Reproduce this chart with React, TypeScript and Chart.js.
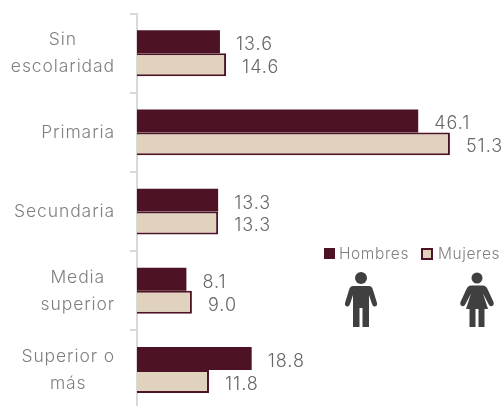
import React, { useEffect, useRef } from "react";
import { Chart, registerables } from "chart.js";

Chart.register(...registerables);

const categories: string[][] = [["Sin", "escolaridad"], ["Primaria"], ["Secundaria"], ["Media", "superior"], ["Superior o", "más"]];
const hombres = [13.6, 46.1, 13.3, 8.1, 18.8];
const mujeres = [14.6, 51.3, 13.3, 9.0, 11.8];

const FONT = "Inter";
const LABEL_COLOR = "#7f7f7f";
const VALUE_COLOR = "#666666";
const DARK = "#4e1225";
const LIGHT = "#e0d2bd";

const drawPlugin = {
  id: "customText",
  afterDraw(chart: any) {
    const ctx = chart.ctx;
    const y = chart.scales.y;
    const x = chart.scales.x;
    ctx.save();
    // category labels: right-aligned block with centred lines
    ctx.font = `300 17.5px ${FONT}`;
    (ctx as any).letterSpacing = "0.9px";
    ctx.fillStyle = LABEL_COLOR;
    ctx.textBaseline = "middle";
    ctx.textAlign = "center";
    categories.forEach((lines, i) => {
      const cy = y.getPixelForTick(i) + 0.5;
      const w = Math.max(...lines.map((l) => ctx.measureText(l).width));
      const cx = 115 - w / 2;
      lines.forEach((l, k) => {
        ctx.fillText(l, cx, cy + (k - (lines.length - 1) / 2) * 27);
      });
    });
    // value labels
    ctx.font = `300 18px ${FONT}`;
    (ctx as any).letterSpacing = "1px";
    ctx.fillStyle = VALUE_COLOR;
    ctx.textAlign = "left";
    chart.data.datasets.forEach((ds: any, di: number) => {
      const meta = chart.getDatasetMeta(di);
      meta.data.forEach((bar: any, i: number) => {
        ctx.fillText(Number(ds.data[i]).toFixed(1), x.getPixelForValue(ds.data[i]) + 16, bar.y + 3);
      });
    });
    // legend
    ctx.font = `300 15.5px ${FONT}`;
    (ctx as any).letterSpacing = "0.6px";
    const [h, m] = chart.data.datasets;
    ctx.fillStyle = DARK;
    ctx.fillRect(324, 248, 11, 11);
    ctx.fillStyle = LIGHT;
    ctx.strokeStyle = DARK;
    ctx.lineWidth = 2;
    ctx.fillRect(422, 249, 10, 10);
    ctx.strokeRect(422, 249, 10, 10);
    ctx.fillStyle = LABEL_COLOR;
    ctx.fillText(h.label, 339, 254);
    ctx.fillText(m.label, 438, 254);
    ctx.restore();
  },
};

function Man({ x, y }: { x: number; y: number }) {
  return (
    <svg style={{ position: "absolute", left: x, top: y }} width="34" height="56" viewBox="0 0 34 56">
      <circle cx="17" cy="6" r="6" fill="#404040" />
      <path
        d="M9 14 H25 Q28 14 29 18 L33 31 Q33.5 34 31 34.5 Q29 35 28 32 L25 23 V55 H18.5 V36 H15.5 V55 H9 V23 L6 32 Q5 35 3 34.5 Q0.5 34 1 31 L5 18 Q6 14 9 14 Z"
        fill="#404040"
      />
    </svg>
  );
}

function Woman({ x, y }: { x: number; y: number }) {
  return (
    <svg style={{ position: "absolute", left: x, top: y }} width="36" height="56" viewBox="0 0 36 56">
      <circle cx="18" cy="6" r="5.5" fill="#404040" />
      <path
        d="M12 13.5 H24 Q27 13.5 28.5 17 L34.5 30 Q35.5 33 33 34 Q31 35 29.5 32 L24 21.5 L29 37 H25.5 V55 H19.5 V37 H16.5 V55 H10.5 V37 H7 L12 21.5 L6.5 32 Q5 35 3 34 Q0.5 33 1.5 30 L7.5 17 Q9 13.5 12 13.5 Z"
        fill="#404040"
      />
    </svg>
  );
}

export default function App() {
  const ref = useRef<HTMLCanvasElement>(null);
  useEffect(() => {
    const chart = new Chart(ref.current as HTMLCanvasElement, {
      type: "bar",
      data: {
        labels: categories,
        datasets: [
          { label: "Hombres", data: hombres, backgroundColor: DARK, borderColor: DARK, borderWidth: 0 },
          { label: "Mujeres", data: mujeres, backgroundColor: LIGHT, borderColor: DARK, borderWidth: 2 },
        ],
      },
      options: {
        indexAxis: "y",
        responsive: false,
        animation: false,
        categoryPercentage: 0.58,
        barPercentage: 1,
        layout: { padding: { top: 13.6, bottom: 10.4, right: 7, left: 0 } },
        plugins: { legend: { display: false }, tooltip: { enabled: false } },
        scales: {
          x: { display: false, min: 0, max: 60 },
          y: {
            afterFit(s: any) {
              s.width = 137;
            },
            ticks: { display: false },
            grid: { drawOnChartArea: false, drawTicks: true, tickLength: 7, color: "#d9d9d9", lineWidth: 2 },
            border: { color: "#d9d9d9", width: 2 },
          },
        },
      } as any,
      plugins: [drawPlugin],
    });
    return () => chart.destroy();
  }, []);
  return (
    <div style={{ position: "fixed", left: 0, top: 0, width: 502, height: 406, overflow: "hidden", background: "#fff" }}>
      <canvas ref={ref} width={510} height={420} style={{ display: "block" }} />
      <Man x={344} y={272} />
      <Woman x={459} y={272} />
    </div>
  );
}
